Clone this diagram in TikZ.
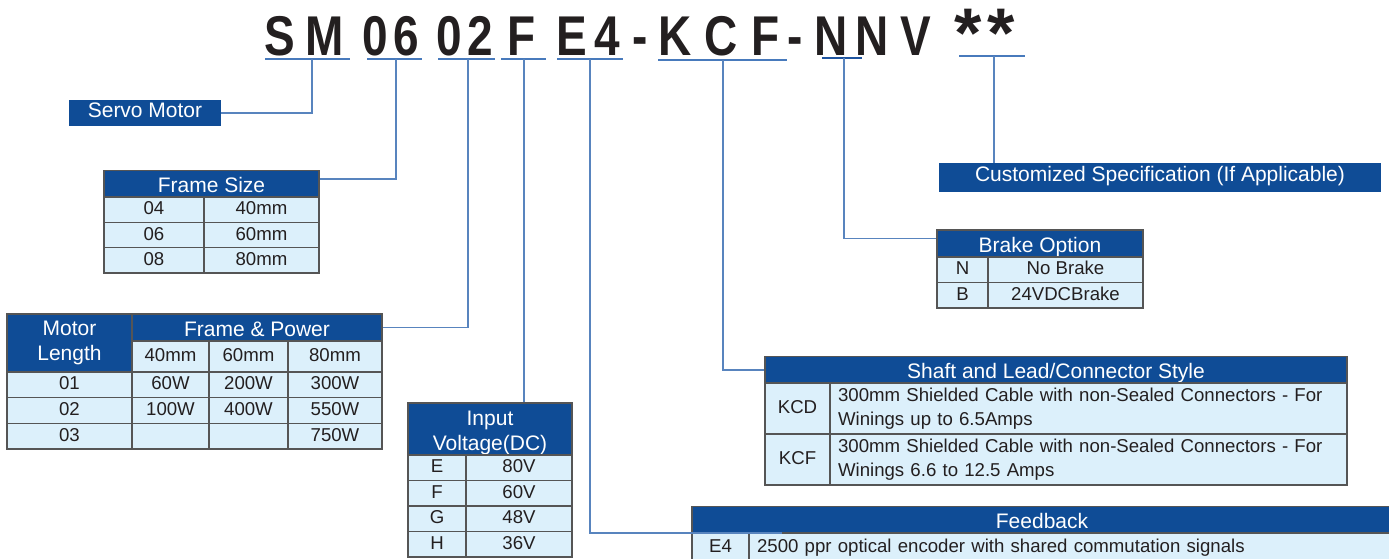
\documentclass[tikz,border=0pt]{standalone}
\usepackage{fontspec}
\setmainfont{Liberation Sans}
\usetikzlibrary{calc}
\definecolor{hdrblue}{RGB}{15, 76, 150}
\definecolor{celllight}{RGB}{220, 240, 251}
\definecolor{gridgray}{RGB}{85, 85, 85}
\definecolor{linkblue}{RGB}{88, 132, 190}
\definecolor{ulblue}{RGB}{72, 122, 188}
\definecolor{ulnavy}{RGB}{30, 84, 160}
\definecolor{txtdark}{RGB}{35, 31, 32}
\tikzset{
  box/.style     = {inner sep=0pt, line width=0.7pt, draw=gridgray},
  hdr/.style     = {box, fill=hdrblue, text=white, align=center, font=\fontsize{11.95}{14.2}\selectfont},
  tag/.style     = {inner sep=0pt, fill=hdrblue, text=white, font=\fontsize{11.95}{14.2}\selectfont},
  cell/.style    = {box, fill=celllight, text=txtdark, font=\fontsize{10.6}{13.7}\selectfont},
  hone/.style    = {text height=12.5pt, text depth=2.5pt},
  tone/.style    = {text height=8.9pt, text depth=4pt},
  cone/.style    = {text height=7.9pt, text depth=2.2pt},
  descr/.style   = {cell, align=left, inner xsep=0.16cm},
  link/.style    = {linkblue, line width=0.8pt},
  uline/.style   = {ulblue, line width=0.9pt},
  codech/.style  = {anchor=base, inner sep=0pt, text=txtdark, font=\fontsize{31.9}{32}\selectfont\bfseries},
}
% cell from (x1,y1) to (x2,y2), pixel units
\newcommand{\tcell}[7]{%
  \node[#2, minimum width={(#5-#3)*0.02cm}, minimum height={(#6-#4)*0.02cm}] (#1) at ({(#3+#5)/2},{(#4+#6)/2}) {#7};}

\begin{document}
\begin{tikzpicture}[x=0.02cm, y=-0.02cm]
\useasboundingbox (0,0) rectangle (1389,558);

% ===== model code =====
\foreach \ch/\cx [count=\i] in {S/280, M/325, 0/375, 6/406, 0/449, 2/480, F/522, E/572, 4/607, -/640, K/675, C/721, F/766, -/795, N/831, N/872, V/916}
  \node[codech] (ch\i) at (\cx,55) {\scalebox{0.82}[1]{\ch}};
\node[codech, font=\fontsize{40}{40}\selectfont\bfseries] (ast1) at (968,57) {*};
\node[codech, font=\fontsize{40}{40}\selectfont\bfseries] (ast2) at (1001,57) {*};

% underlines
\draw[uline] (265,59) -- (350,59);
\draw[uline] (367,59) -- (422,59);
\draw[uline] (438,59) -- (495,59);
\draw[uline] (501,59) -- (546,59);
\draw[uline] (557,59) -- (623,59);
\draw[uline] (658,60) -- (787,60);
\draw[ulnavy, line width=1.1pt] (822,58) -- (862,58);
\draw[uline] (959,56) -- (1025,56);
\coordinate (uSM) at (312,59);
\coordinate (uFS) at (396,59);
\coordinate (uFP) at (468,59);
\coordinate (uIV) at (524,59);
\coordinate (uFB) at (590,59);
\coordinate (uSH) at (723,60);
\coordinate (uBR) at (844,58);
\coordinate (uCS) at (994,56);

% ===== Servo Motor =====
\tcell{servo}{tag,tone}{69}{100}{221}{126}{Servo Motor}

% ===== Frame Size =====
\tcell{fsH}{hdr,hone}{104}{171}{319}{197}{Frame Size}
\foreach \c/\v [count=\r] in {04/40mm, 06/60mm, 08/80mm} {
  \pgfmathsetmacro\ya{197+(\r-1)*25.33}
  \pgfmathsetmacro\yb{197+\r*25.33}
  \tcell{fsC\r}{cell,cone}{104}{\ya}{204}{\yb}{\c}
  \tcell{fsV\r}{cell,cone}{204}{\ya}{319}{\yb}{\v}
}

% ===== Motor Length / Frame & Power =====
\tcell{mlH}{hdr}{7}{314}{132}{372}{Motor\\Length}
\tcell{fpH}{hdr,hone}{132}{314}{382}{341}{Frame \& Power}
\tcell{fp40}{cell,cone}{132}{341}{209}{372}{40mm}
\tcell{fp60}{cell,cone}{209}{341}{288}{372}{60mm}
\tcell{fp80}{cell,cone}{288}{341}{382}{372}{80mm}
\foreach \c/\a/\b/\d [count=\r] in {01/60W/200W/300W, 02/100W/400W/550W, 03/{}/{}/750W} {
  \pgfmathsetmacro\ya{372+(\r-1)*25.67}
  \pgfmathsetmacro\yb{372+\r*25.67}
  \tcell{fpL\r}{cell,cone}{7}{\ya}{132}{\yb}{\c}
  \tcell{fpA\r}{cell,cone}{132}{\ya}{209}{\yb}{\a}
  \tcell{fpB\r}{cell,cone}{209}{\ya}{288}{\yb}{\b}
  \tcell{fpC\r}{cell,cone}{288}{\ya}{382}{\yb}{\d}
}

% ===== Input Voltage =====
\tcell{ivH}{hdr}{408}{403}{572}{455}{\rule{0pt}{13pt}Input\\Voltage(DC)}
\foreach \c/\v [count=\r] in {E/80V, F/60V, G/48V, H/36V} {
  \pgfmathsetmacro\ya{455+(\r-1)*25.5}
  \pgfmathsetmacro\yb{455+\r*25.5}
  \tcell{ivC\r}{cell,cone}{408}{\ya}{466}{\yb}{\c}
  \tcell{ivV\r}{cell,cone}{466}{\ya}{572}{\yb}{\v}
}

% ===== Feedback =====
\tcell{fbH}{hdr,hone}{692}{507}{1392}{533}{Feedback}
\tcell{fbC}{cell,cone}{692}{533}{749}{562}{E4}
\tcell{fbD}{descr,cone,text width=12.54cm}{749}{533}{1392}{562}{2500 ppr optical encoder with shared commutation signals}
\coordinate (fbEnd) at (782,533);

% ===== Shaft and Lead/Connector Style =====
\tcell{shH}{hdr,hone}{765}{357}{1347}{383}{Shaft and Lead/Connector Style}
\tcell{shC1}{cell,cone}{765}{383}{830}{434}{KCD}
\tcell{shD1}{descr,text width=10.02cm}{830}{383}{1347}{434}{300mm Shielded Cable with non-Sealed Connectors - For\\Winings up to 6.5Amps}
\tcell{shC2}{cell,cone}{765}{434}{830}{485}{KCF}
\tcell{shD2}{descr,text width=10.02cm}{830}{434}{1347}{485}{300mm Shielded Cable with non-Sealed Connectors - For\\Winings 6.6 to 12.5 Amps}

% ===== Brake Option =====
\tcell{brH}{hdr,hone}{937}{230}{1143}{257}{Brake Option}
\foreach \c/\v [count=\r] in {N/No Brake, B/24VDCBrake} {
  \pgfmathsetmacro\ya{257+(\r-1)*25.5}
  \pgfmathsetmacro\yb{257+\r*25.5}
  \tcell{brC\r}{cell,cone}{937}{\ya}{988}{\yb}{\c}
  \tcell{brV\r}{cell,cone}{988}{\ya}{1143}{\yb}{\v}
}

% ===== Customized Specification =====
\tcell{cs}{tag,tone}{939}{163}{1381}{192}{Customized Specification (If Applicable)}

% ===== connectors =====
\draw[link] (uSM) |- (servo.east);
\draw[link] (uFS) |- ([yshift=0.1cm]fsH.east);
\draw[link] (uFP) |- (fpH.east);
\draw[link] (uIV) -- (uIV |- ivH.north);
\draw[link] (uFB) |- (fbEnd);
\draw[link] (uSH) |- (shH.west);
\draw[link] (uBR) |- ([yshift=0.1cm]brH.west);
\draw[link] (uCS) -- (uCS |- cs.north);

\end{tikzpicture}
\end{document}
